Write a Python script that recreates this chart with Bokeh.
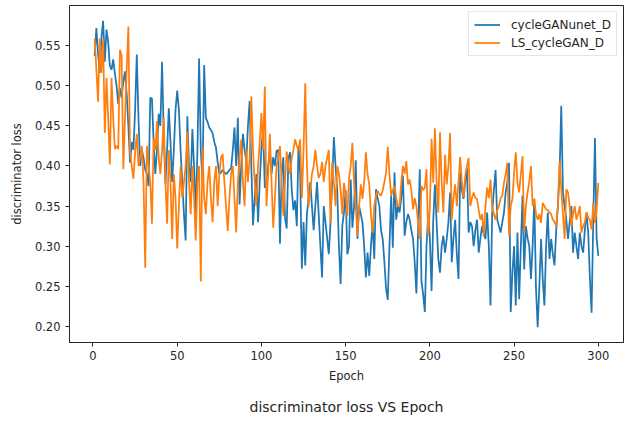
from bokeh.plotting import figure
from bokeh.models import Range1d, FixedTicker, Legend, LegendItem, Title, NumeralTickFormatter
from bokeh.embed import file_html
from bokeh.resources import INLINE

# ---------------- data ----------------
unet_d = [
    0.537, 0.572, 0.540, 0.516, 0.560, 0.581, 0.530, 0.570, 0.555, 0.525,
    0.520, 0.533, 0.515, 0.500, 0.477, 0.497, 0.485, 0.505, 0.518, 0.490,
    0.450, 0.404, 0.430, 0.420, 0.470, 0.539, 0.460, 0.400, 0.420, 0.410,
    0.395, 0.390, 0.375, 0.485, 0.484, 0.430, 0.390, 0.420, 0.465, 0.450,
    0.530, 0.440, 0.377, 0.420, 0.472, 0.430, 0.380, 0.420, 0.470, 0.494,
    0.470, 0.420, 0.380, 0.340, 0.307, 0.462, 0.400, 0.380, 0.446, 0.400,
    0.340, 0.420, 0.534, 0.420, 0.380, 0.526, 0.460, 0.455, 0.448, 0.445,
    0.441, 0.430, 0.423, 0.405, 0.390, 0.392, 0.395, 0.392, 0.390, 0.392,
    0.395, 0.397, 0.420, 0.448, 0.400, 0.460, 0.352, 0.400, 0.440, 0.420,
    0.406, 0.450, 0.481, 0.400, 0.326, 0.360, 0.390, 0.330, 0.380, 0.423,
    0.444, 0.373, 0.380, 0.400, 0.419, 0.390, 0.411, 0.400, 0.419, 0.420,
    0.303, 0.390, 0.411, 0.335, 0.322, 0.410, 0.417, 0.370, 0.345, 0.357,
    0.325, 0.425, 0.390, 0.272, 0.330, 0.276, 0.340, 0.360, 0.380, 0.350,
    0.320, 0.350, 0.380, 0.340, 0.300, 0.261, 0.350, 0.330, 0.310, 0.290,
    0.330, 0.380, 0.436, 0.400, 0.370, 0.300, 0.253, 0.325, 0.342, 0.370,
    0.290, 0.300, 0.383, 0.323, 0.350, 0.407, 0.309, 0.350, 0.340, 0.329,
    0.300, 0.261, 0.292, 0.263, 0.300, 0.329, 0.284, 0.371, 0.360, 0.350,
    0.320, 0.309, 0.280, 0.247, 0.233, 0.300, 0.363, 0.298, 0.392, 0.333,
    0.350, 0.342, 0.360, 0.388, 0.313, 0.330, 0.340, 0.333, 0.320, 0.309,
    0.280, 0.241, 0.320, 0.396, 0.257, 0.240, 0.218, 0.300, 0.340, 0.309,
    0.244, 0.333, 0.377, 0.330, 0.284, 0.267, 0.300, 0.313, 0.292, 0.309,
    0.330, 0.367, 0.280, 0.310, 0.333, 0.290, 0.259, 0.392, 0.370, 0.359,
    0.380, 0.398, 0.317, 0.330, 0.325, 0.300, 0.320, 0.333, 0.292, 0.310,
    0.325, 0.315, 0.309, 0.342, 0.300, 0.226, 0.342, 0.370, 0.395, 0.333,
    0.325, 0.317, 0.330, 0.342, 0.367, 0.380, 0.404, 0.218, 0.267, 0.300,
    0.226, 0.317, 0.234, 0.300, 0.363, 0.271, 0.325, 0.310, 0.300, 0.259,
    0.300, 0.359, 0.247, 0.199, 0.250, 0.309, 0.259, 0.226, 0.300, 0.342,
    0.284, 0.309, 0.290, 0.276, 0.320, 0.350, 0.392, 0.475, 0.367, 0.350,
    0.333, 0.309, 0.330, 0.350, 0.292, 0.317, 0.300, 0.284, 0.317, 0.300,
    0.292, 0.320, 0.342, 0.317, 0.260, 0.217, 0.333, 0.435, 0.309, 0.288,
]

ls_d = [
    0.559, 0.520, 0.480, 0.559, 0.516, 0.558, 0.441, 0.510, 0.460, 0.402,
    0.510, 0.460, 0.421, 0.425, 0.421, 0.545, 0.538, 0.396, 0.460, 0.520,
    0.574, 0.418, 0.400, 0.384, 0.417, 0.440, 0.400, 0.410, 0.425, 0.380,
    0.273, 0.425, 0.400, 0.380, 0.328, 0.435, 0.420, 0.456, 0.410, 0.390,
    0.420, 0.460, 0.380, 0.328, 0.420, 0.380, 0.309, 0.390, 0.360, 0.297,
    0.350, 0.400, 0.360, 0.380, 0.400, 0.443, 0.380, 0.340, 0.400, 0.360,
    0.307, 0.380, 0.400, 0.256, 0.423, 0.360, 0.340, 0.380, 0.400, 0.360,
    0.330, 0.380, 0.400, 0.350, 0.390, 0.410, 0.415, 0.380, 0.350, 0.319,
    0.360, 0.390, 0.400, 0.360, 0.317, 0.380, 0.410, 0.433, 0.380, 0.350,
    0.420, 0.380, 0.410, 0.487, 0.420, 0.380, 0.350, 0.400, 0.430, 0.466,
    0.420, 0.499, 0.350, 0.390, 0.440, 0.380, 0.323, 0.360, 0.400, 0.410,
    0.425, 0.380, 0.338, 0.380, 0.418, 0.400, 0.390, 0.410, 0.420, 0.433,
    0.425, 0.420, 0.433, 0.360, 0.420, 0.503, 0.400, 0.350, 0.370, 0.390,
    0.400, 0.420, 0.400, 0.385, 0.390, 0.405, 0.380, 0.400, 0.410, 0.420,
    0.330, 0.405, 0.380, 0.350, 0.400, 0.390, 0.370, 0.340, 0.379, 0.365,
    0.338, 0.385, 0.400, 0.429, 0.379, 0.350, 0.313, 0.350, 0.377, 0.359,
    0.380, 0.417, 0.390, 0.377, 0.340, 0.317, 0.350, 0.363, 0.369, 0.365,
    0.363, 0.370, 0.380, 0.392, 0.424, 0.390, 0.363, 0.370, 0.375, 0.360,
    0.350, 0.350, 0.380, 0.400, 0.390, 0.406, 0.377, 0.383, 0.370, 0.346,
    0.360, 0.350, 0.330, 0.309, 0.375, 0.370, 0.373, 0.396, 0.313, 0.350,
    0.434, 0.379, 0.447, 0.380, 0.342, 0.442, 0.380, 0.342, 0.414, 0.377,
    0.400, 0.441, 0.333, 0.360, 0.377, 0.350, 0.380, 0.411, 0.380, 0.361,
    0.388, 0.400, 0.410, 0.350, 0.360, 0.367, 0.360, 0.359, 0.345, 0.333,
    0.340, 0.313, 0.350, 0.373, 0.360, 0.383, 0.348, 0.340, 0.333, 0.345,
    0.350, 0.360, 0.363, 0.379, 0.390, 0.404, 0.313, 0.350, 0.359, 0.392,
    0.417, 0.379, 0.367, 0.390, 0.412, 0.317, 0.350, 0.367, 0.380, 0.400,
    0.350, 0.359, 0.340, 0.333, 0.340, 0.329, 0.354, 0.350, 0.346, 0.345,
    0.342, 0.340, 0.333, 0.330, 0.325, 0.350, 0.406, 0.371, 0.340, 0.309,
    0.371, 0.367, 0.350, 0.325, 0.340, 0.350, 0.333, 0.340, 0.350, 0.317,
    0.325, 0.330, 0.342, 0.335, 0.333, 0.321, 0.354, 0.329, 0.345, 0.379,
]

epochs = list(range(1, len(unet_d) + 1))
series_names = ["cycleGANunet_D", "LS_cycleGAN_D"]
x_ticks = [0, 50, 100, 150, 200, 250, 300]
y_ticks = [0.20, 0.25, 0.30, 0.35, 0.40, 0.45, 0.50, 0.55]

BLUE = "#1f77b4"
ORANGE = "#ff7f0e"
FONT = "DejaVu Sans"
TXT = "#262626"
EDGE = "#262626"

# matplotlib-like 5% margins
xmin, xmax = min(epochs), max(epochs)
ymin = min(min(unet_d), min(ls_d))
ymax = max(max(unet_d), max(ls_d))
xm = (xmax - xmin) * 0.05
ym = (ymax - ymin) * 0.05

p = figure(
    width=626, height=425,
    output_backend="svg", toolbar_location=None, tools="",
    x_range=Range1d(xmin - xm, xmax + xm),
    y_range=Range1d(ymin - ym, ymax + ym),
    min_border_left=69, min_border_right=3, min_border_top=5, min_border_bottom=82,
    background_fill_color="white", border_fill_color="white",
)

r1 = p.line(epochs, unet_d, line_color=BLUE, line_width=1.75)
r2 = p.line(epochs, ls_d, line_color=ORANGE, line_width=1.75)

p.grid.visible = False
p.outline_line_color = EDGE
p.outline_line_alpha = 1.0
p.outline_line_width = 1

for ax in (p.xaxis[0], p.yaxis[0]):
    ax.axis_line_color = EDGE
    ax.major_tick_line_color = EDGE
    ax.major_tick_out = 4
    ax.major_tick_in = 0
    ax.minor_tick_line_color = None
    ax.major_label_text_font = FONT
    ax.major_label_text_font_size = "11.5px"
    ax.major_label_text_color = TXT
    ax.axis_label_text_font = FONT
    ax.axis_label_text_font_size = "11.5px"
    ax.axis_label_text_font_style = "normal"
    ax.axis_label_text_color = TXT

p.xaxis.ticker = FixedTicker(ticks=x_ticks)
p.yaxis.ticker = FixedTicker(ticks=y_ticks)
p.yaxis.formatter = NumeralTickFormatter(format="0.00")
p.xaxis.axis_label = "Epoch"
p.yaxis.axis_label = "discriminator loss"
p.xaxis.major_label_standoff = 4
p.yaxis.major_label_standoff = 5
p.xaxis.axis_label_standoff = 6
p.yaxis.axis_label_standoff = 8

legend = Legend(
    items=[LegendItem(label=series_names[0], renderers=[r1]),
           LegendItem(label=series_names[1], renderers=[r2])],
    location="top_right",
    margin=6, padding=5, spacing=3,
    glyph_width=26, glyph_height=15, label_height=15,
    label_standoff=11,
    label_text_font=FONT, label_text_font_size="12px", label_text_color=TXT,
    border_line_color="#cccccc", border_line_width=1,
    background_fill_color="white", background_fill_alpha=0.8,
)
p.add_layout(legend)

sub = Title(text="discriminator loss VS Epoch", align="center",
            text_font=FONT, text_font_size="14px", text_font_style="normal",
            text_color=TXT, standoff=22)
p.add_layout(sub, "below")

open("out.html", "w").write(file_html(p, INLINE))
